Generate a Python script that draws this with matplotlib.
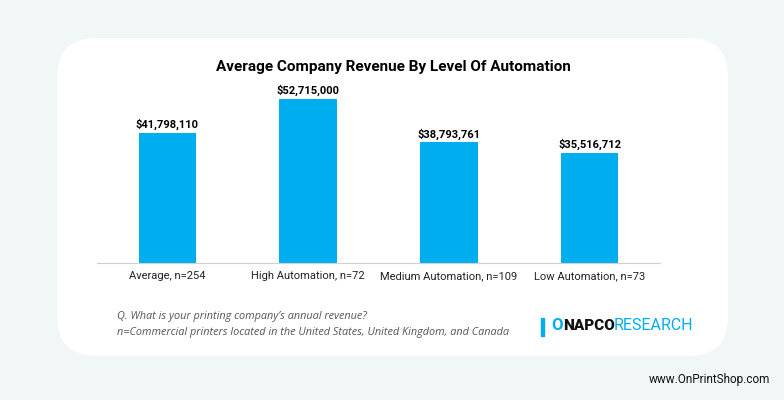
import matplotlib.pyplot as plt
from matplotlib.patches import FancyBboxPatch, Rectangle

categories = ["Average, n=254", "High Automation, n=72",
              "Medium Automation, n=109", "Low Automation, n=73"]
revenue = [41798110, 52715000, 38793761, 35516712]

W, H = 784, 400
fig = plt.figure(figsize=(W / 100, H / 100), dpi=100)
fig.patch.set_facecolor("#f1f6f6")

# white card, drawn under the axes
card = FancyBboxPatch((57 / W, 1 - 356 / H), (728 - 57) / W, (356 - 38) / H,
                      boxstyle="round,pad=0,rounding_size=0.05",
                      transform=fig.transFigure, facecolor="white",
                      edgecolor="none", mutation_aspect=W / H, zorder=-5)
fig.patches.append(card)

ax = fig.add_axes([97 / W, (H - 263) / H, 563 / W, 173 / H])
ax.set_facecolor("none")
ax.set_zorder(2)
x = range(len(categories))
bars = ax.bar(x, revenue, width=0.41, color="#00aeef")
ax.set_xlim(-0.5, 3.5)
ax.set_ylim(0, 52715000 * 173 / 164)
for b, v in zip(bars, revenue):
    ax.text(b.get_x() + b.get_width() / 2, v + 900000, f"${v:,}",
            ha="center", va="bottom", fontsize=8, fontweight="bold",
            family="Roboto")
ax.set_xticks(list(x))
ax.set_xticklabels(categories, fontsize=8, family="Roboto", color="#222222")
ax.tick_params(axis="x", length=0, pad=6)
ax.set_yticks([])
for s in ["top", "right", "left"]:
    ax.spines[s].set_visible(False)
ax.spines["bottom"].set_color("#d0d0d0")

fig.text(393 / W, 1 - 67 / H, "Average Company Revenue By Level Of Automation",
         ha="center", va="center", fontsize=11, fontweight="bold", family="Roboto")

fig.text(117 / W, 1 - 316 / H, "Q. What is your printing company’s annual revenue?",
         fontsize=7.8, style="italic", color="#555555", va="center", family="Open Sans")
fig.text(117 / W, 1 - 333 / H,
         "n=Commercial printers located in the United States, United Kingdom, and Canada",
         fontsize=7.8, style="italic", color="#555555", va="center", family="Open Sans")

# logo
fig.patches.append(Rectangle((541 / W, 1 - 336 / H), 3 / W, 18 / H,
                             transform=fig.transFigure, color="#00aeef"))
fig.text(551 / W, 1 - 326 / H, "O", fontsize=12, fontweight="bold",
         color="#00aeef", va="center", family="Roboto")
fig.text(563 / W, 1 - 326 / H, "NAPCO", fontsize=11, fontweight="black",
         color="#111111", va="center", family="Roboto")
fig.text(614 / W, 1 - 326 / H, "RESEARCH", fontsize=11.5,
         color="#00aeef", va="center", family="Roboto")

fig.text(770 / W, 1 - 380 / H, "www.OnPrintShop.com", ha="right", va="center",
         fontsize=8.5, color="#111111", family="Roboto")

fig.savefig("out.png", dpi=100, facecolor=fig.get_facecolor())
